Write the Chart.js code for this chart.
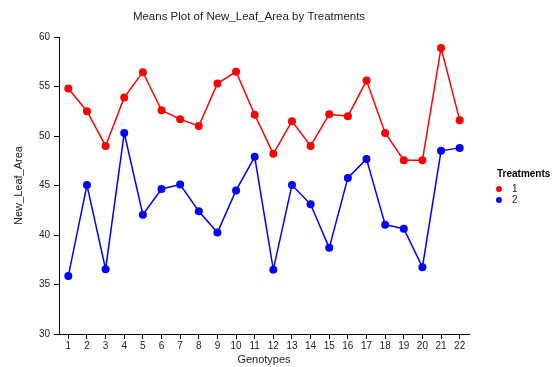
<!DOCTYPE html>
<html>
<head>
<meta charset="utf-8">
<script src="https://cdn.jsdelivr.net/npm/chart.js"></script>
<style>
  html, body { margin: 0; padding: 0; background: #fff; }
  #wrap { width: 554px; height: 367px; position: relative; }
</style>
</head>
<body>
<div id="wrap"><canvas id="meansChart"></canvas></div>
<script>
// Genotypes 1..22
var genotypes = ['1','2','3','4','5','6','7','8','9','10','11','12','13','14','15','16','17','18','19','20','21','22'];

// Treatment means
var treatment1 = [54.8, 52.5, 49.0, 53.9, 56.45, 52.6, 51.7, 51.0, 55.3, 56.5, 52.15, 48.2,
                  51.5, 49.0, 52.2, 52.0, 55.6, 50.3, 47.55, 47.55, 58.9, 51.6];
var treatment2 = [35.87, 45.05, 36.55, 50.3, 42.05, 44.65, 45.1, 42.4, 40.25, 44.5, 47.9, 36.5,
                  45.05, 43.1, 38.7, 45.77, 47.68, 41.04, 40.63, 36.75, 48.5, 48.8];

var yTicks = [30, 35, 40, 45, 50, 55, 60];

var FONT = '"Liberation Sans", Arial, sans-serif';

// title + legend drawn by hand so they sit where the original had them
var decorPlugin = {
    id: 'decor',
    afterDraw: function(chart) {
        var c = chart.ctx;
        c.save();
        c.fillStyle = '#222';
        c.font = '11.5px ' + FONT;
        c.textAlign = 'center';
        c.textBaseline = 'middle';
        c.fillText('Means Plot of New_Leaf_Area by Treatments', 249, 17);

        c.textAlign = 'left';
        c.font = 'bold 10px ' + FONT;
        c.fillStyle = '#000';
        c.fillText('Treatments', 497, 174);

        c.font = '10px ' + FONT;
        chart.data.datasets.forEach(function(ds, i) {
            var y = 189 + i * 11;
            c.beginPath();
            c.arc(499, y, 3, 0, Math.PI * 2);
            c.fillStyle = ds.borderColor;
            c.fill();
            c.fillStyle = '#222';
            c.fillText(ds.label, 512, y);
        });
        c.restore();
    }
};

var ctx = document.getElementById('meansChart').getContext('2d');
new Chart(ctx, {
    type: 'line',
    data: {
        labels: genotypes,
        datasets: [
            {
                label: '1',
                data: treatment1,
                borderColor: '#ff0000',
                backgroundColor: '#ff0000',
                borderWidth: 1.5,
                pointRadius: 4,
                pointBorderWidth: 0,
                tension: 0,
                fill: false
            },
            {
                label: '2',
                data: treatment2,
                borderColor: '#0000ff',
                backgroundColor: '#0000ff',
                borderWidth: 1.5,
                pointRadius: 4,
                pointBorderWidth: 0,
                tension: 0,
                fill: false
            }
        ]
    },
    options: {
        responsive: true,
        maintainAspectRatio: false,
        animation: false,
        layout: { padding: { left: 0, top: 37, right: 85, bottom: 0 } },
        plugins: {
            legend: { display: false },
            title: { display: false },
            tooltip: { enabled: false }
        },
        scales: {
            x: {
                type: 'category',
                offset: true,
                grid: { display: true, drawOnChartArea: false, offset: false, color: '#000', tickLength: 5, tickWidth: 1 },
                border: { display: true, color: '#000', width: 1 },
                ticks: { color: '#222', font: { size: 10, family: FONT }, padding: 1, maxRotation: 0, autoSkip: false },
                title: { display: true, text: 'Genotypes', color: '#222', font: { size: 11, family: FONT }, padding: { top: 6, bottom: 0 } },
                afterFit: function(scale) { scale.height = 33; }
            },
            y: {
                min: 30,
                max: 60,
                afterBuildTicks: function(scale) {
                    scale.ticks = yTicks.map(function(v) { return { value: v }; });
                },
                grid: { display: true, drawOnChartArea: false, color: '#000', tickLength: 5, tickWidth: 1 },
                border: { display: true, color: '#000', width: 1 },
                ticks: { color: '#222', font: { size: 10, family: FONT }, padding: 4 },
                title: { display: true, text: 'New_Leaf_Area', color: '#222', font: { size: 11, family: FONT }, padding: { top: 12, bottom: 0 } },
                afterFit: function(scale) { scale.width = 59; }
            }
        }
    },
    plugins: [decorPlugin]
});
</script>
</body>
</html>
